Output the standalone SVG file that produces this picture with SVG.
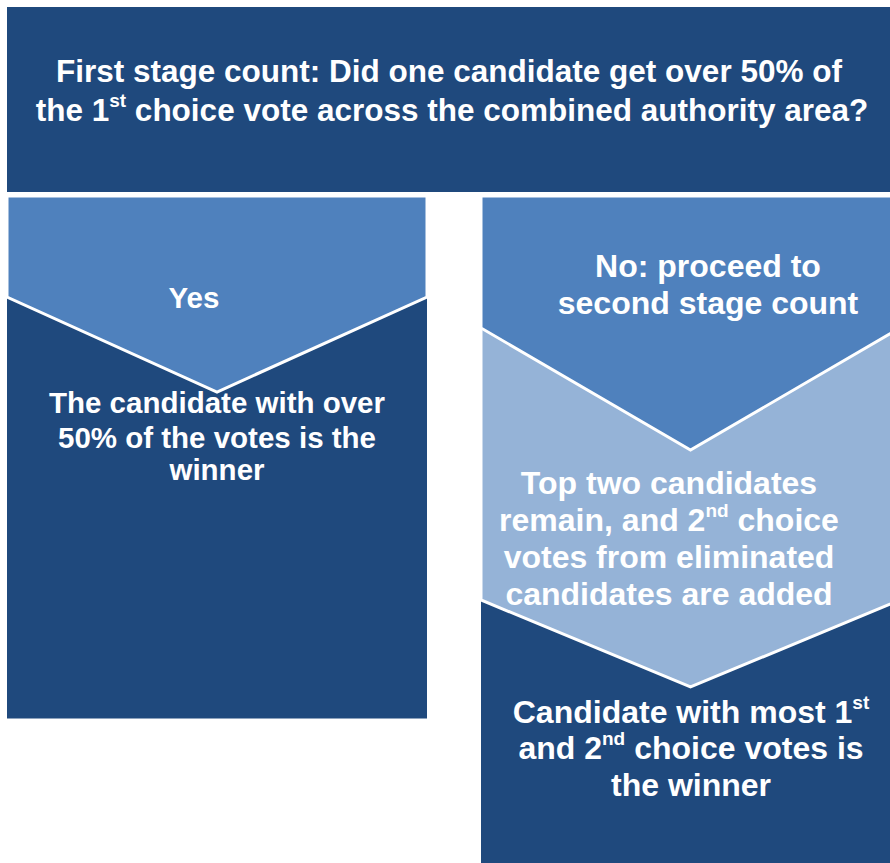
<svg xmlns="http://www.w3.org/2000/svg" width="890" height="863" viewBox="0 0 890 863">
<style>
.dark{fill:#1F497D;}
.mid{fill:#4F81BD;stroke:#FFFFFF;stroke-width:3;stroke-linejoin:miter;}
.light{fill:#95B3D7;stroke:#FFFFFF;stroke-width:3;stroke-linejoin:miter;}
text{font-family:"Liberation Sans",Arial,sans-serif;font-weight:bold;fill:#FFFFFF;text-anchor:middle;}
.t1{font-size:31.5px;}
.tl{font-size:29.5px;}
.tr{font-size:32px;}
</style>
<rect width="890" height="863" fill="#FFFFFF"/>
<g id="question">
<rect class="dark" x="7" y="7" width="900" height="185"/>
<text class="t1" x="449" y="82">First stage count: Did one candidate get over 50% of</text>
<text class="t1" x="452" y="120.5">the 1<tspan font-size="19" dy="-14">st</tspan><tspan dy="14"> choice vote across the combined authority area?</tspan></text>
</g>
<g id="yes-branch">
<rect class="dark" x="7" y="196" width="420" height="522.5"/>
<polygon class="mid" points="7,196 427,196 427,297 217,392 7,297"/>
<text class="tl" x="194" y="307.5">Yes</text>
</g>
<g id="yes-result">
<text class="tl" x="217" y="413">The candidate with over</text>
<text class="tl" x="217" y="448">50% of the votes is the</text>
<text class="tl" x="217" y="480">winner</text>
</g>
<g id="no-branch">
<rect class="dark" x="481" y="196" width="420" height="680"/>
<polygon class="light" points="481,196 900,196 900,600 690.5,687 481,600"/>
<polygon class="mid" points="481,196 900,196 900,328 690.5,450 481,328"/>
<text class="tr" x="708" y="276.5">No: proceed to</text>
<text class="tr" x="708" y="314">second stage count</text>
</g>
<g id="second-stage">
<text class="tr" x="669" y="494">Top two candidates</text>
<text class="tr" x="669" y="531">remain, and 2<tspan font-size="19" dy="-14">nd</tspan><tspan dy="14"> choice</tspan></text>
<text class="tr" x="669" y="568">votes from eliminated</text>
<text class="tr" x="669" y="605">candidates are added</text>
</g>
<g id="winner">
<text class="tr" x="691" y="723">Candidate with most 1<tspan font-size="19" dy="-14">st</tspan></text>
<text class="tr" x="691" y="759">and 2<tspan font-size="19" dy="-14">nd</tspan><tspan dy="14"> choice votes is</tspan></text>
<text class="tr" x="691" y="796">the winner</text>
</g>
<g id="connectors"/>
</svg>
